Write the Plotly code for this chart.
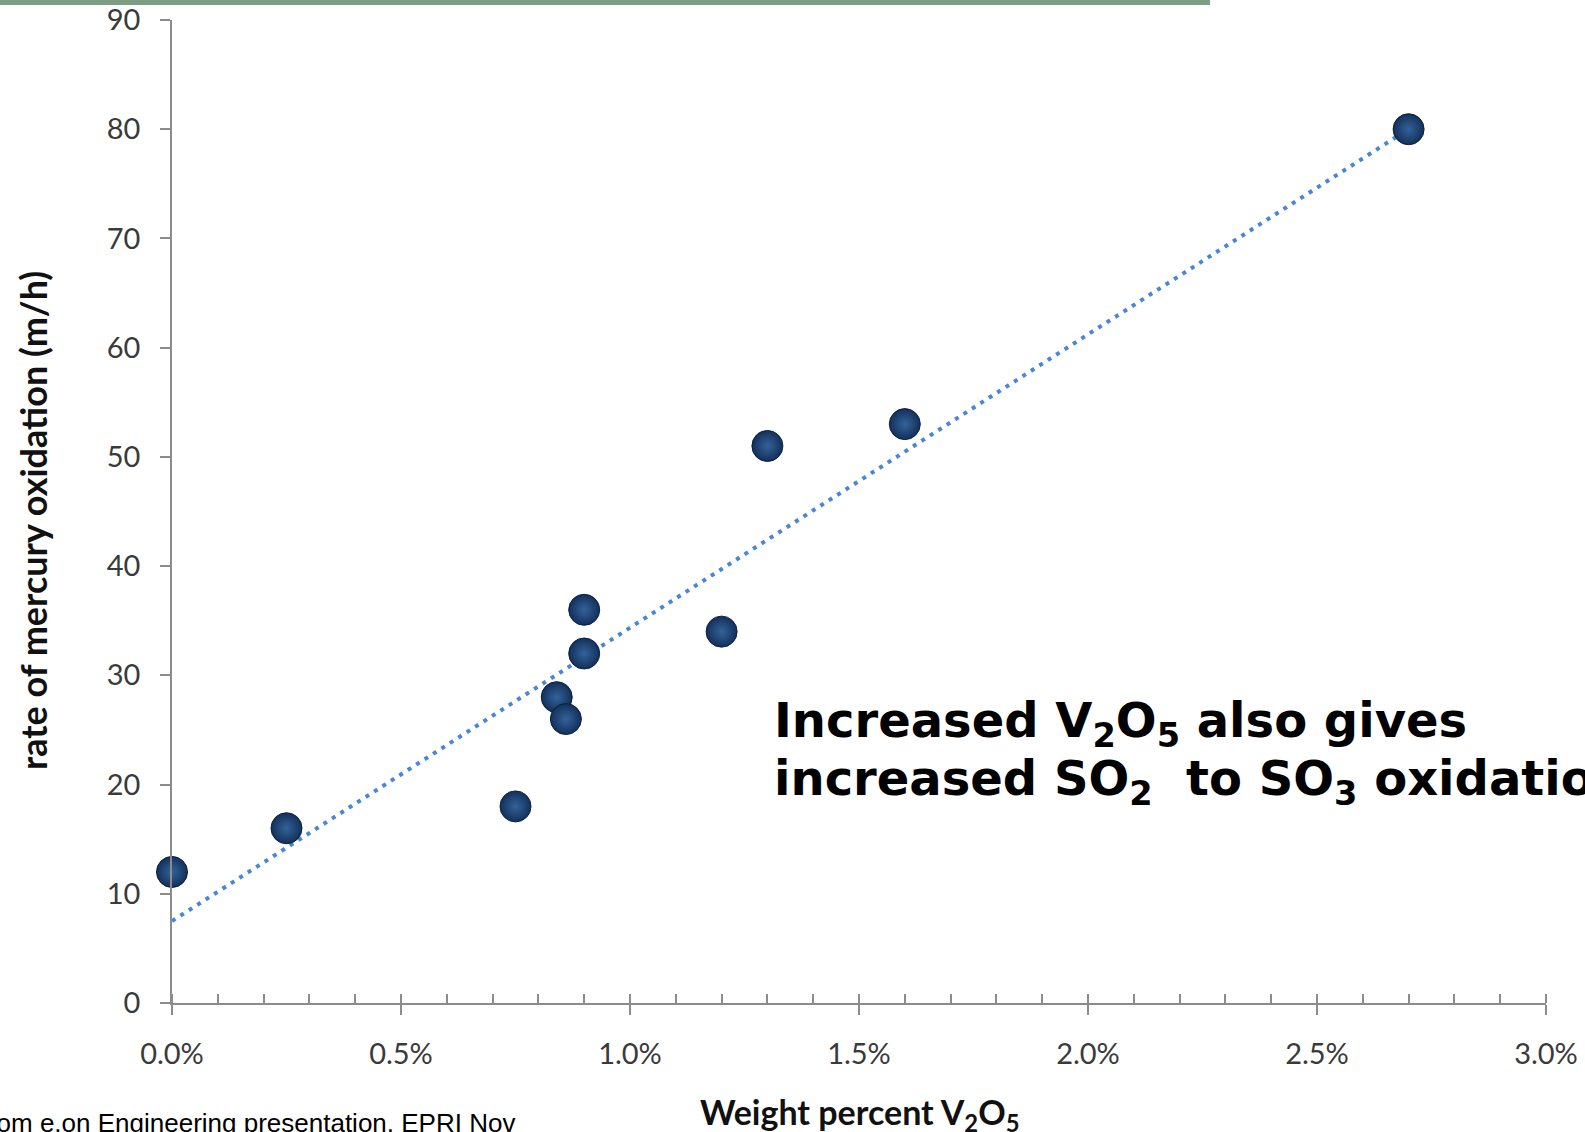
import numpy as np
import plotly.graph_objects as go

# ---- data ----
v2o5_pct = [0.00, 0.25, 0.75, 0.84, 0.86, 0.90, 0.90, 1.20, 1.30, 1.60, 2.70]   # weight percent V2O5
hg_rate = [12, 16, 18, 28, 26, 36, 32, 34, 51, 53, 80]                          # rate of mercury oxidation (m/h)
y_ticks = [0, 10, 20, 30, 40, 50, 60, 70, 80, 90]
x_ticks_pct = [0.0, 0.5, 1.0, 1.5, 2.0, 2.5, 3.0]

x_frac = [v / 100.0 for v in v2o5_pct]

# linear trend line (Excel-style linear fit)
slope, intercept = np.polyfit(x_frac, hg_rate, 1)
trend_x = [min(x_frac), max(x_frac)]
trend_y = [intercept + slope * xv for xv in trend_x]

# ---- layout geometry ----
W, H = 1585, 1132
L, R, T, B = 172, 1546, 20, 1003
PW, PH = R - L, B - T

def px(xp):
    return (xp - L) / PW

def py(yp):
    return (B - yp) / PH

fig = go.Figure()

fig.add_trace(go.Scatter(
    x=trend_x, y=trend_y, mode="lines",
    line=dict(color="#4a86d8", width=4, dash="4px,6px"),
    hoverinfo="skip", showlegend=False,
))

fig.add_trace(go.Scatter(
    x=x_frac, y=hg_rate, mode="markers",
    marker=dict(
        size=31, color="#13305a",
        gradient=dict(type="radial", color="#34629a"),
        line=dict(color="#0b1f3a", width=1),
    ),
    cliponaxis=False, showlegend=False,
))

tickfont = dict(family="Lato", size=29, color="#3a3a3a")

fig.update_layout(
    width=W, height=H,
    margin=dict(l=L, r=W - R, t=T, b=H - B, autoexpand=False),
    paper_bgcolor="white", plot_bgcolor="white",
    xaxis=dict(
        range=[0, 0.03], tickvals=[v / 100 for v in x_ticks_pct],
        tickformat=".1%", tickfont=tickfont,
        showgrid=False, zeroline=False,
        showline=True, linecolor="#8c8c8c", linewidth=1.5,
        ticks="outside", ticklen=10, tickwidth=1.5, tickcolor="#8c8c8c",
        ticklabelstandoff=14,
        minor=dict(dtick=0.001, ticks="inside", ticklen=9, tickwidth=1.5,
                   tickcolor="#8c8c8c", showgrid=False),
    ),
    yaxis=dict(
        range=[0, 90], tickvals=y_ticks, tickfont=tickfont,
        showgrid=False, zeroline=False,
        showline=True, linecolor="#8c8c8c", linewidth=1.5,
        ticks="outside", ticklen=10, tickwidth=1.5, tickcolor="#8c8c8c",
        ticklabelstandoff=14,
    ),
    shapes=[dict(type="rect", xref="paper", yref="paper",
                 x0=px(0), x1=px(1210), y0=py(5), y1=py(0),
                 fillcolor="#7d9d84", line=dict(width=0), layer="above")],
    annotations=[
        dict(text="<b>rate of mercury oxidation (m/h)</b>", textangle=-90,
             xref="paper", yref="paper", x=px(33), y=py(521),
             xanchor="center", yanchor="middle", showarrow=False,
             font=dict(family="Lato", size=36, color="#111")),
        dict(text="<b>Weight percent V<sub>2</sub>O<sub>5</sub></b>",
             xref="paper", yref="paper", x=px(859), y=py(1114),
             xanchor="center", yanchor="middle", showarrow=False,
             font=dict(family="Lato", size=34, color="#111")),
        dict(text="<b>Increased V<sub>2</sub>O<sub>5</sub> also gives</b>",
             xref="paper", yref="paper", x=px(772), y=py(723),
             xanchor="left", yanchor="middle", showarrow=False,
             font=dict(family="DejaVu Sans", size=48, color="black")),
        dict(text="<b>increased SO<sub>2</sub>\u00a0 to SO<sub>3</sub> oxidation</b>",
             xref="paper", yref="paper", x=px(772), y=py(781),
             xanchor="left", yanchor="middle", showarrow=False,
             font=dict(family="DejaVu Sans", size=48, color="black")),
        dict(text="From e.on Engineering presentation, EPRI Nov",
             xref="paper", yref="paper", x=px(517), y=py(1123),
             xanchor="right", yanchor="middle", showarrow=False,
             font=dict(family="Liberation Sans", size=26, color="black")),
    ],
)

fig.write_html("out.html",
               config={"displayModeBar": False},
               post_script="document.body.style.margin='0';document.body.style.overflow='hidden';")
